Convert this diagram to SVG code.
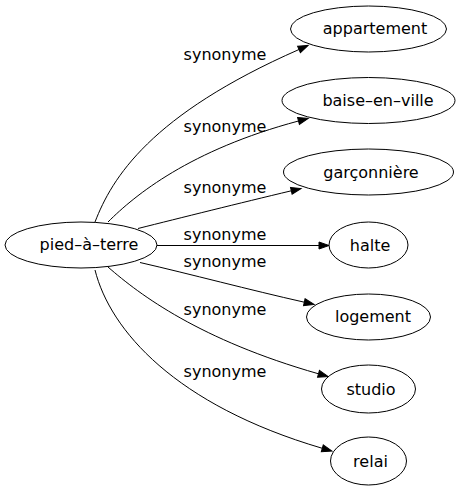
<svg xmlns="http://www.w3.org/2000/svg" width="459" height="491" viewBox="0 0 459 491">
<defs>
<style>
.node ellipse{fill:none;stroke:#000;stroke-width:1}
text{font-family:"DejaVu Sans","Liberation Sans",sans-serif;font-size:16px;fill:#000;text-anchor:middle}
.edges path{fill:none;stroke:#000;stroke-width:1;marker-end:url(#arr)}
</style>
<marker id="arr" markerUnits="userSpaceOnUse" markerWidth="10" markerHeight="7" refX="0" refY="3.5" orient="auto" overflow="visible">
<path d="M0,0 L10,3.5 L0,7 Z" fill="#000" stroke="#000" stroke-width="1"/>
</marker>
</defs>
<rect width="459" height="491" fill="#fff"/>
<g id="edges" class="edges">
<path d="M95,222 C112,178 150,115 299,49.5"/>
<path d="M108,222 C135,195 190,150 298.5,121"/>
<path d="M138,228.5 C180,218 240,203 291.3,190.8"/>
<path d="M157,245.5 L319,245.5"/>
<path d="M140,262.5 C190,274 250,290 304.3,302.2"/>
<path d="M108,267 C140,295 200,340 318.5,373.8"/>
<path d="M95,270 C110,330 175,405 322.3,448.3"/>
<text x="225" y="60">synonyme</text>
<text x="225" y="132">synonyme</text>
<text x="225" y="192.5">synonyme</text>
<text x="225" y="240">synonyme</text>
<text x="225" y="267">synonyme</text>
<text x="225" y="314.5">synonyme</text>
<text x="225" y="377">synonyme</text>
</g>
<g id="n0" class="node"><ellipse cx="81" cy="245" rx="76" ry="23"/><text x="89" y="250">pied–à–terre</text></g>
<g id="n1" class="node"><ellipse cx="368.5" cy="29" rx="78" ry="23"/><text x="375" y="34">appartement</text></g>
<g id="n2" class="node"><ellipse cx="368.5" cy="100.5" rx="86.5" ry="23"/><text x="378" y="106">baise–en–ville</text></g>
<g id="n3" class="node"><ellipse cx="368.5" cy="172" rx="85" ry="23"/><text x="371" y="177.5">garçonnière</text></g>
<g id="n4" class="node"><ellipse cx="368.5" cy="245" rx="39.5" ry="23"/><text x="370" y="250.5">halte</text></g>
<g id="n5" class="node"><ellipse cx="368.5" cy="317" rx="62" ry="23"/><text x="373" y="322">logement</text></g>
<g id="n6" class="node"><ellipse cx="368.5" cy="389" rx="47" ry="24"/><text x="371" y="394.5">studio</text></g>
<g id="n7" class="node"><ellipse cx="368.5" cy="461" rx="38" ry="24"/><text x="370.5" y="466.5">relai</text></g>
</svg>
